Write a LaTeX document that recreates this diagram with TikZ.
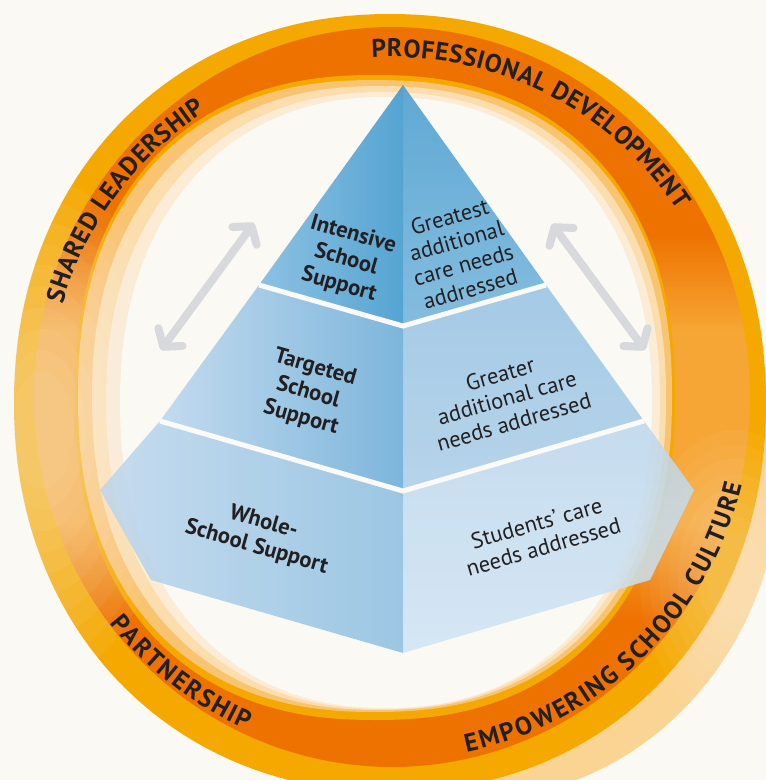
\documentclass[tikz,border=0pt]{standalone}
\usepackage{fontspec}
\setmainfont{PT Sans}
\usetikzlibrary{arrows.meta,decorations.text}

\definecolor{bg}{HTML}{FAF9F4}
\definecolor{goldc}{HTML}{F5A800}
\definecolor{dko}{HTML}{EE7200}
\definecolor{mido}{HTML}{F6A634}
\definecolor{lto}{HTML}{F9C472}
\definecolor{paleA}{HTML}{FCDDAE}
\definecolor{paleB}{HTML}{FDECD5}
\definecolor{paleO}{HTML}{FAD493}
\definecolor{agray}{HTML}{D8D9DC}
\definecolor{txt}{HTML}{231F20}
\definecolor{sepc}{HTML}{FBFAF6}
\definecolor{tlA}{HTML}{7AB8E0}
\definecolor{tlB}{HTML}{3996CD}
\definecolor{trA}{HTML}{449CCF}
\definecolor{trB}{HTML}{71B2DC}
\definecolor{mlA}{HTML}{BAD6EE}
\definecolor{mlB}{HTML}{67AAD8}
\definecolor{mrA}{HTML}{96C2E4}
\definecolor{mrB}{HTML}{ABCEE9}
\definecolor{blA}{HTML}{BED7EE}
\definecolor{blB}{HTML}{8BBEE1}
\definecolor{brA}{HTML}{BCD7EE}
\definecolor{brB}{HTML}{D0E4F4}

\pgfdeclareverticalshading{bandshade}{100bp}{color(0bp)=(dko); color(35bp)=(dko); color(41.5bp)=(mido); color(54.5bp)=(mido); color(61bp)=(dko); color(100bp)=(dko)}

\newcommand\ringtxt{\fontsize{25.5}{30}\selectfont\bfseries}
\newcommand\lblreg{\fontsize{22.5}{25}\selectfont}
\newcommand\lblbold{\fontsize{22.5}{26}\selectfont\bfseries}

\tikzset{
  sell/.style n args={5}{insert path={plot[domain=0:360,samples=181,variable=\t]
    ({#1+#3*cos(\t)*(abs(cos(\t))+0.0001)^(2/#5-1)},
     {-#2+#4*sin(\t)*(abs(sin(\t))+0.0001)^(2/#5-1)}) -- cycle}},
  face/.style={fill opacity=0.85},
  sepline/.style={draw=sepc, line width=5pt},
  lbl/.style={align=center, text=txt, inner sep=0pt, font=\lblreg},
  lblb/.style={align=center, text=txt, inner sep=0pt, font=\lblbold},
  dblarrow/.style={draw=agray, line width=8pt,
    {Straight Barb[round,length=12pt,width=30pt]}-{Straight Barb[round,length=12pt,width=30pt]}},
  ringlbl/.style={decorate, decoration={text along path, text color=txt, text align=center}}
}

\begin{document}
\begin{tikzpicture}[x=1pt,y=1pt]
\useasboundingbox (0,0) rectangle (766,-780);
\fill[bg] (0,0) rectangle (766,-780);
\clip (0,0) rectangle (766,-780);

% ---- ring ----
\fill[paleO, sell={470}{470}{310}{330}{2}];
\fill[goldc, sell={390}{403}{376}{389}{2.1}];
\shade[shading=bandshade, sell={392}{397}{358}{370}{2}];
\fill[goldc, sell={375}{397.5}{300}{322.5}{2.3}];
\fill[lto, sell={375}{396}{297}{316}{2.3}];
\fill[paleA, sell={379}{398}{287}{312}{2.25}];
\fill[paleB, sell={383}{400.5}{277}{308.5}{2.2}];
\fill[bg, sell={386}{402.5}{266}{305.5}{2.2}];

% soft fading of the left and lower right parts of the ring
\foreach \k in {0,...,9}
  \fill[bg, opacity=0.055] (42,-430) ellipse[x radius={135*(1-0.085*\k)}, y radius={250*(1-0.085*\k)}];
\foreach \k in {0,...,7}
  \fill[bg, opacity=0.045] (735,-575) ellipse[x radius={95*(1-0.1*\k)}, y radius={145*(1-0.1*\k)}];

% ---- ring texts ----
\begin{scope}[shift={(392,-400)}]
\path[ringlbl, decoration={raise=13pt, text={|\ringtxt|PROFESSIONAL DEVELOPMENT}}]
  (143.5:330) arc[start angle=143.5, end angle=-16.5, radius=330];
\path[ringlbl, decoration={raise=13pt, text={|\ringtxt|SHARED LEADERSHIP}}]
  (203.3:330) arc[start angle=203.3, end angle=83.3, radius=330];
\path[ringlbl, decoration={raise=-39pt, text={|\ringtxt|PARTNERSHIP}}]
  (172.2:321) arc[start angle=172.2, end angle=292.2, radius=321];
\path[ringlbl, decoration={raise=-39pt, text={|\ringtxt|EMPOWERING SCHOOL CULTURE}}]
  (234.2:321) arc[start angle=234.2, end angle=394.2, radius=321];
\end{scope}

% ---- pyramid ----
\coordinate (A) at (403,-85);
\coordinate (L1) at (259,-285);
\coordinate (M1) at (403,-326);
\coordinate (R1) at (546,-285);
\coordinate (L2) at (160,-421);
\coordinate (M2) at (403,-491);
\coordinate (R2) at (644,-421);
\coordinate (W) at (100,-490);
\coordinate (BL) at (151,-580);
\coordinate (B) at (403,-653);
\coordinate (E) at (694,-490);
\coordinate (BR) at (650,-580);

\path[face, left color=blA, right color=blB] (L2) -- (W) -- (BL) -- (B) -- (M2) -- cycle;
\path[face, top color=brA, bottom color=brB] (M2) -- (R2) -- (E) -- (BR) -- (B) -- cycle;
\path[face, left color=mlA, right color=mlB] (L1) -- (L2) -- (M2) -- (M1) -- cycle;
\path[face, top color=mrA, bottom color=mrB] (M1) -- (R1) -- (R2) -- (M2) -- cycle;
\path[face, left color=tlA, right color=tlB] (A) -- (L1) -- (M1) -- cycle;
\path[face, top color=trA, bottom color=trB] (A) -- (M1) -- (R1) -- cycle;

\draw[sepline] (L1) -- (M1) -- (R1);
\draw[sepline] (L2) -- (M2) -- (R2);

% ---- arrows ----
\coordinate (la1) at (161,-350);
\coordinate (la2) at (254,-223);
\coordinate (ra1) at (552,-224);
\coordinate (ra2) at (645,-350);
\draw[dblarrow] (la1) -- (la2);
\draw[dblarrow] (ra1) -- (ra2);

% ---- labels ----
\node[lblb, rotate=-16] (t1l) at (346,-260) {Intensive\\School\\Support};
\node[lbl, rotate=16] (t1r) at (460,-253) {Greatest\\additional\\care needs\\addressed};
\node[lblb, rotate=-16] (t2l) at (308,-393) {Targeted\\School\\Support};
\node[lbl, rotate=16] (t2r) at (507,-398) {Greater\\additional care\\needs addressed};
\node[lblb, rotate=-16] (t3l) at (260,-535) {Whole-\\School Support};
\node[lbl, rotate=16] (t3r) at (540,-535) {Students’ care\\needs addressed};
\end{tikzpicture}
\end{document}
